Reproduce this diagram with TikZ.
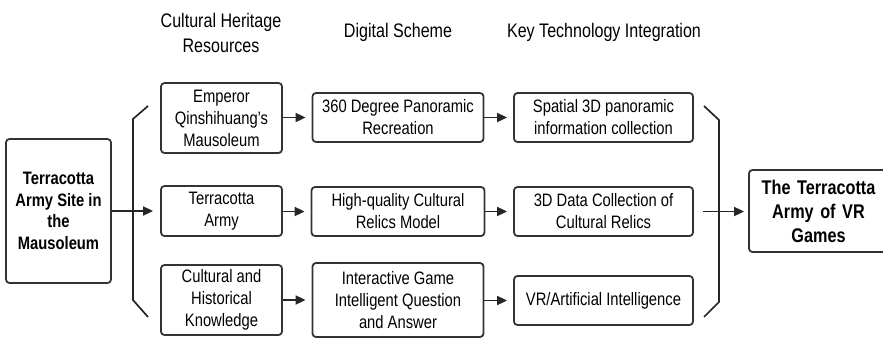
\documentclass[tikz,border=0pt]{standalone}
\usepackage{fontspec}
\setmainfont{Liberation Sans}[FakeStretch=0.82]
\usetikzlibrary{arrows.meta}
\definecolor{edge}{HTML}{333333}
\definecolor{linec}{HTML}{262626}
\tikzset{
  box/.style={draw=edge, line width=1.8pt, rounded corners=3.5pt, inner sep=0pt, align=center,
    font=\fontsize{18}{22}\selectfont},
  bigbox/.style={box, font=\fontsize{18}{21.7}\selectfont\bfseries},
  endbox/.style={box, font=\fontsize{19.8}{24}\selectfont\bfseries},
  head/.style={align=center, inner sep=0pt, font=\fontsize{19.6}{25}\selectfont},
  conn/.style={draw=linec, line width=1.7pt, -{Triangle[length=10pt,width=9pt]}},
  brack/.style={draw=linec, line width=1.7pt, line join=miter},
}
\begin{document}
\begin{tikzpicture}[x=1pt,y=-1pt]
\useasboundingbox (0,0) rectangle (883,338);
\clip (0,0) rectangle (883,338);
% headers
\node[head] (h1) at (221,33) {Cultural Heritage\\Resources};
\node[head] (h2) at (398,32) {Digital Scheme};
\node[head] (h3) at (604,32) {Key Technology Integration};
% left box
\node[bigbox, minimum width=105pt, minimum height=144pt] (src) at (58.5,211) {Terracotta\\Army Site in\\the\\Mausoleum};
% column 1
\node[box, minimum width=121pt, minimum height=70pt] (a1) at (221.5,118) {Emperor\\Qinshihuang's\\Mausoleum};
\node[box, minimum width=121pt, minimum height=50pt] (a2) at (221.5,211) {Terracotta\\Army};
\node[box, minimum width=121pt, minimum height=70pt] (a3) at (221.5,300) {Cultural and\\Historical\\Knowledge};
% column 2
\node[box, minimum width=171pt, minimum height=49pt] (b1) at (398,117.5) {360 Degree Panoramic\\Recreation};
\node[box, minimum width=173pt, minimum height=49pt] (b2) at (398,211.5) {High-quality Cultural\\Relics Model};
\node[box, minimum width=171pt, minimum height=74pt] (b3) at (398,300) {Interactive Game\\Intelligent Question\\and Answer};
% column 3
\node[box, minimum width=179pt, minimum height=49pt] (c1) at (603.5,117.5) {Spatial 3D panoramic\\information collection};
\node[box, minimum width=179pt, minimum height=49pt] (c2) at (603.5,211.5) {3D Data Collection of\\Cultural Relics};
\node[box, minimum width=179pt, minimum height=49pt] (c3) at (603.5,300.5) {VR/Artificial Intelligence};
% result
\node[endbox, minimum width=139pt, minimum height=82pt, text width=130pt] (res) at (818.5,211) {The Terracotta\\Army of VR\\Games};
% brackets
\draw[brack] (148,106) -- (133,119) -- (133,300) -- (148,317);
\draw[brack] (704,106) -- (719,120) -- (719,302) -- (704,317);
% connectors
\draw[conn, shorten >=7pt] (src.east) -- (a2.west);
\draw[conn, shorten >=6pt] (a1.east |- b1.west) -- (b1.west);
\draw[conn, shorten >=6pt] (a2.east |- b2.west) -- (b2.west);
\draw[conn, shorten >=6pt] (a3.east) -- (b3.west);
\draw[conn, shorten >=6pt] (b1.east) -- (c1.west);
\draw[conn, shorten >=6pt] (b2.east) -- (c2.west);
\draw[conn, shorten >=6pt] (b3.east |- c3.west) -- (c3.west);
\draw[conn, shorten <=9pt, shorten >=4pt] (c2.east) -- (res.west |- c2.east);
\end{tikzpicture}
\end{document}
